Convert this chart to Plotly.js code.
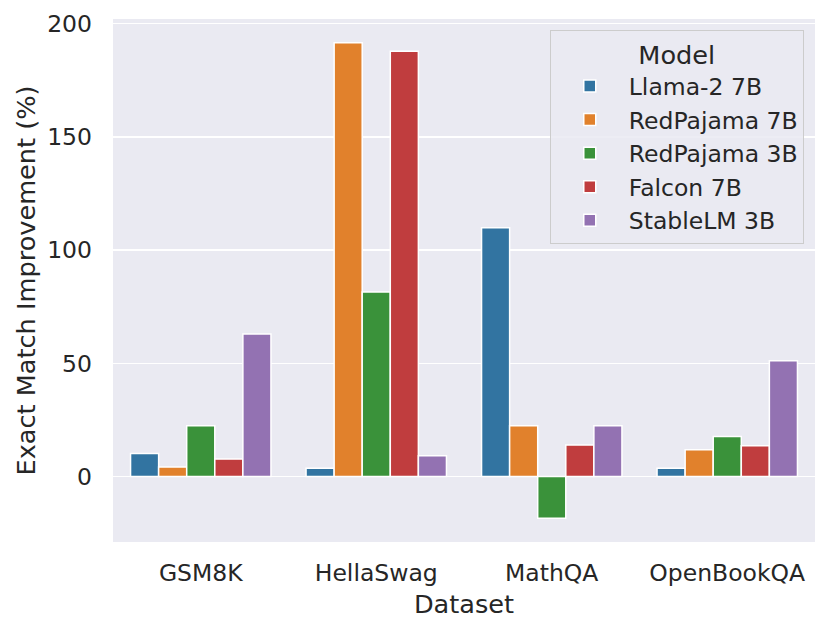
<!DOCTYPE html>
<html>
<head>
<meta charset="utf-8">
<script src="https://cdn.plot.ly/plotly-3.0.1.min.js"></script>
<style>
  html, body { margin: 0; padding: 0; background: white; }
  #plot { width: 830px; height: 633px; }
</style>
</head>
<body>
<div id="plot"></div>
<script>
// categories and per-model improvement values
const datasets = ['GSM8K', 'HellaSwag', 'MathQA', 'OpenBookQA'];
const models = ['Llama-2 7B', 'RedPajama 7B', 'RedPajama 3B', 'Falcon 7B', 'StableLM 3B'];
const llama2_7b = [10.2, 3.7, 109.8, 3.7];
const redpajama_7b = [4.2, 191.5, 22.4, 11.8];
const redpajama_3b = [22.4, 81.5, -18.4, 17.7];
const falcon_7b = [7.7, 187.8, 13.9, 13.6];
const stablelm_3b = [62.9, 9.2, 22.4, 51.1];
const colors = ['#3274a1', '#e1812c', '#3a923a', '#c03d3e', '#9372b2'];

const values = [llama2_7b, redpajama_7b, redpajama_3b, falcon_7b, stablelm_3b];
const font = 'DejaVu Sans, sans-serif';

const traces = models.map((name, i) => ({
    type: 'bar',
    name: name,
    x: datasets,
    y: values[i],
    marker: {
        color: colors[i],
        line: { color: 'white', width: 1.5 }
    }
}));

const layout = {
    width: 830,
    height: 633,
    margin: { l: 113, r: 15, t: 19, b: 91, pad: 0 },
    paper_bgcolor: 'white',
    plot_bgcolor: '#eaeaf2',
    font: { family: font, color: '#262626', size: 23.5 },
    barmode: 'group',
    bargap: 0.2,
    bargroupgap: 0,
    showlegend: true,
    xaxis: {
        title: { text: 'Dataset', font: { size: 25.6 }, standoff: 9 },
        showgrid: false,
        zeroline: false,
        ticks: '',
        ticklabelstandoff: 14,
        tickfont: { size: 23.5 }
    },
    yaxis: {
        title: { text: 'Exact Match Improvement (%)', font: { size: 25.6 }, standoff: 4 },
        range: [-28.9, 202],
        tickvals: [0, 50, 100, 150, 200],
        showgrid: true,
        gridcolor: 'white',
        gridwidth: 1.5,
        zeroline: false,
        ticks: '',
        ticklabelstandoff: 20,
        tickfont: { size: 23.5 }
    },
    legend: {
        title: { text: 'Model', side: 'top center', font: { size: 25.6 } },
        x: 0.984,
        xanchor: 'right',
        y: 0.979,
        yanchor: 'top',
        itemwidth: 68,
        bgcolor: 'rgba(234,234,242,0.85)',
        bordercolor: '#cccccc',
        borderwidth: 1,
        font: { size: 23.5 }
    }
};

Plotly.newPlot('plot', traces, layout, { displayModeBar: false, staticPlot: true });
</script>
</body>
</html>
